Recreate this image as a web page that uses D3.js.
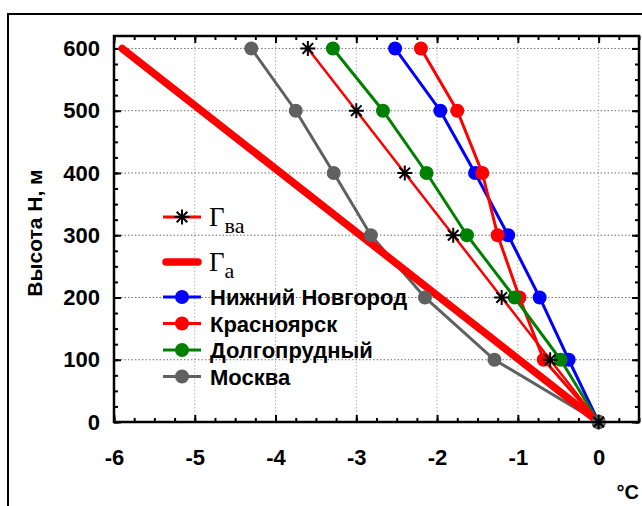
<!DOCTYPE html>
<html>
<head>
<meta charset="utf-8">
<script src="https://cdn.jsdelivr.net/npm/d3@7"></script>
<style>
    body { margin: 0; background: #fff; }
    svg { display: block; }
</style>
</head>
<body>
<div id="main"></div>
<script>
const ctx = {
    w: 642,
    h: 506,
    left: 114,
    right: 639,
    top: 36,
    bottom: 422,
    SANS: "'Liberation Sans', Arial, sans-serif",
    SERIF: "'Liberation Serif', 'Times New Roman', serif",
};

// heights, m
const HEIGHTS = [0, 100, 200, 300, 400, 500, 600];
// temperature differences, deg C
const NIZHNY = [0, -0.37, -0.73, -1.12, -1.53, -1.96, -2.52];
const KRASNOYARSK = [0, -0.68, -0.98, -1.25, -1.44, -1.75, -2.20];
const DOLGOPRUDNY = [0, -0.47, -1.04, -1.63, -2.13, -2.67, -3.29];
const MOSCOW = [0, -1.29, -2.15, -2.82, -3.28, -3.75, -4.30];
const GAMMA_VA = [0, -0.6, -1.2, -1.8, -2.4, -3.0, -3.6];
const GAMMA_A_H = [0, 600];
const GAMMA_A = [0, -5.9];

const X_TICKS = [-6, -5, -4, -3, -2, -1, 0];
const Y_TICKS = [0, 100, 200, 300, 400, 500, 600];

const SERIES = [
    { name: "Нижний Новгород", color: "#0000ff", values: NIZHNY },
    { name: "Красноярск", color: "#ff0000", values: KRASNOYARSK },
    { name: "Долгопрудный", color: "#008000", values: DOLGOPRUDNY },
    { name: "Москва", color: "#606060", values: MOSCOW },
];

function starPath(r) {
    let d = "";
    [0, 45, 90, 135].forEach((a) => {
        let rad = a * Math.PI / 180;
        let dx = r * Math.cos(rad), dy = r * Math.sin(rad);
        d += `M${-dx},${-dy}L${dx},${dy}`;
    });
    return d;
}

function createViz() {
    let svgEl = d3.select("#main").append("svg")
        .attr("width", ctx.w)
        .attr("height", ctx.h);

    // outer frame (runs off the picture on the right and bottom)
    svgEl.append("rect")
        .attr("x", 8).attr("y", 14)
        .attr("width", 700).attr("height", 600)
        .attr("fill", "none").attr("stroke", "#000").attr("stroke-width", 2);

    let x = d3.scaleLinear().domain([-6, 0.5]).range([ctx.left, ctx.right]);
    let y = d3.scaleLinear().domain([0, 620]).range([ctx.bottom, ctx.top]);

    // grid
    let grid = svgEl.append("g");
    grid.selectAll(".gx")
        .data(X_TICKS.slice(1))
        .enter().append("line")
        .attr("x1", (d) => x(d)).attr("x2", (d) => x(d))
        .attr("y1", ctx.top).attr("y2", ctx.bottom)
        .attr("stroke", "#b0b0b0").attr("stroke-dasharray", "1.5,2");
    grid.selectAll(".gy")
        .data(Y_TICKS.slice(1))
        .enter().append("line")
        .attr("x1", ctx.left).attr("x2", ctx.right)
        .attr("y1", (d) => y(d)).attr("y2", (d) => y(d))
        .attr("stroke", "#707070").attr("stroke-dasharray", "1.5,2");

    // axes with inward ticks on all four sides
    let minorX = d3.range(-6, 0.51, 0.25);
    let minorY = d3.range(0, 620, 25);
    let fmt = (d) => String(d);
    let axes = [
        [d3.axisBottom(x).tickValues(minorX).tickSize(-4).tickFormat(""), `translate(0,${ctx.bottom})`],
        [d3.axisBottom(x).tickValues(X_TICKS).tickSize(-7).tickPadding(27).tickFormat(fmt), `translate(0,${ctx.bottom})`],
        [d3.axisTop(x).tickValues(minorX).tickSize(-4).tickFormat(""), `translate(0,${ctx.top})`],
        [d3.axisTop(x).tickValues(X_TICKS).tickSize(-7).tickFormat(""), `translate(0,${ctx.top})`],
        [d3.axisLeft(y).tickValues(minorY).tickSize(-4).tickFormat(""), `translate(${ctx.left},0)`],
        [d3.axisLeft(y).tickValues(Y_TICKS).tickSize(-7).tickPadding(14).tickFormat(fmt), `translate(${ctx.left},0)`],
        [d3.axisRight(y).tickValues(minorY).tickSize(-4).tickFormat(""), `translate(${ctx.right},0)`],
        [d3.axisRight(y).tickValues(Y_TICKS).tickSize(-7).tickFormat(""), `translate(${ctx.right},0)`],
    ];
    axes.forEach(([ax, tr]) => {
        let g = svgEl.append("g").attr("transform", tr).call(ax);
        g.select(".domain").remove();
        g.selectAll(".tick line").attr("stroke", "#000").attr("stroke-width", 2);
        g.selectAll(".tick text")
            .style("font-family", ctx.SANS).style("font-weight", "bold")
            .style("font-size", "22px").attr("fill", "#000");
    });

    // plot border
    svgEl.append("rect")
        .attr("x", ctx.left).attr("y", ctx.top)
        .attr("width", ctx.right - ctx.left).attr("height", ctx.bottom - ctx.top)
        .attr("fill", "none").attr("stroke", "#000").attr("stroke-width", 2.5);

    let line = d3.line().x((d) => x(d[0])).y((d) => y(d[1]));
    let plot = svgEl.append("g");

    SERIES.forEach((s) => {
        plot.append("path")
            .datum(s.values.map((v, i) => [v, HEIGHTS[i]]))
            .attr("d", line)
            .attr("fill", "none").attr("stroke", s.color).attr("stroke-width", 3);
    });
    plot.append("path")
        .datum(GAMMA_A.map((v, i) => [v, GAMMA_A_H[i]]))
        .attr("d", line)
        .attr("fill", "none").attr("stroke", "#ff0000").attr("stroke-width", 7.5)
        .attr("stroke-linecap", "round");
    plot.append("path")
        .datum(GAMMA_VA.map((v, i) => [v, HEIGHTS[i]]))
        .attr("d", line)
        .attr("fill", "none").attr("stroke", "#ff0000").attr("stroke-width", 2.5);

    SERIES.forEach((s) => {
        plot.selectAll(null)
            .data(s.values.map((v, i) => [v, HEIGHTS[i]]))
            .enter().append("circle")
            .attr("cx", (d) => x(d[0])).attr("cy", (d) => y(d[1]))
            .attr("r", 7).attr("fill", s.color);
    });
    plot.selectAll(null)
        .data(GAMMA_VA.map((v, i) => [v, HEIGHTS[i]]))
        .enter().append("path")
        .attr("transform", (d) => `translate(${x(d[0])},${y(d[1])})`)
        .attr("d", starPath(7.5))
        .attr("stroke", "#000").attr("stroke-width", 2);

    // legend
    let lg = svgEl.append("g");
    let symX = [163, 201];
    let midX = 182;

    lg.append("line").attr("x1", symX[0]).attr("x2", symX[1]).attr("y1", 217).attr("y2", 217)
        .attr("stroke", "#ff0000").attr("stroke-width", 3);
    lg.append("path").attr("transform", `translate(${midX},217)`).attr("d", starPath(7.5))
        .attr("stroke", "#000").attr("stroke-width", 2);
    let t1 = lg.append("text").attr("x", 209).attr("y", 226)
        .style("font-family", ctx.SERIF).style("font-size", "27px");
    t1.append("tspan").text("Γ");
    t1.append("tspan").attr("dy", 7).style("font-size", "22px").text("ва");

    lg.append("line").attr("x1", symX[0] + 3).attr("x2", symX[1] - 3).attr("y1", 262).attr("y2", 262)
        .attr("stroke", "#ff0000").attr("stroke-width", 7.5).attr("stroke-linecap", "round");
    let t2 = lg.append("text").attr("x", 209).attr("y", 271)
        .style("font-family", ctx.SERIF).style("font-size", "27px");
    t2.append("tspan").text("Γ");
    t2.append("tspan").attr("dy", 7).style("font-size", "22px").text("а");

    SERIES.forEach((s, i) => {
        let yy = 297 + i * 26.5;
        lg.append("line").attr("x1", symX[0]).attr("x2", symX[1]).attr("y1", yy).attr("y2", yy)
            .attr("stroke", s.color).attr("stroke-width", 3);
        lg.append("circle").attr("cx", midX).attr("cy", yy).attr("r", 7).attr("fill", s.color);
        lg.append("text").attr("x", 210).attr("y", yy + 8)
            .style("font-family", ctx.SANS).style("font-weight", "bold").style("font-size", "22px")
            .text(s.name);
    });

    // axis titles
    svgEl.append("text")
        .attr("transform", "translate(42,233) rotate(-90)")
        .attr("text-anchor", "middle")
        .style("font-family", ctx.SANS).style("font-weight", "bold").style("font-size", "21px")
        .text("Высота Н, м");
    svgEl.append("text")
        .attr("x", 639).attr("y", 499)
        .attr("text-anchor", "end")
        .style("font-family", ctx.SANS).style("font-weight", "bold").style("font-size", "20px")
        .text("°C");
}

createViz();
</script>
</body>
</html>
